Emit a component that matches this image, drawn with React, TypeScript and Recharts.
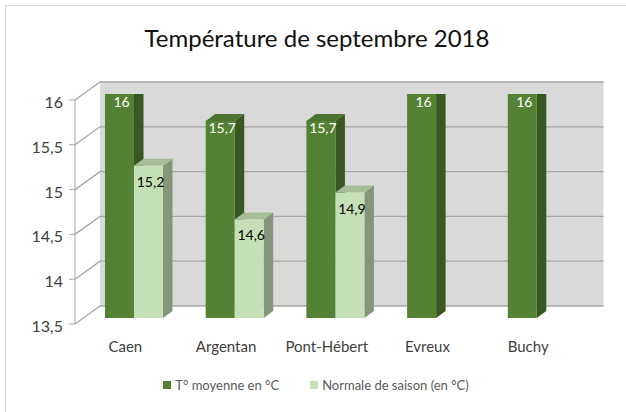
import { BarChart, Bar, XAxis, YAxis, CartesianGrid, Legend, LabelList } from "recharts";

const categories = ["Caen", "Argentan", "Pont-Hébert", "Evreux", "Buchy"];
const tMoyenne = [16, 15.7, 15.7, 16, 16];
const normaleSaison: (number | null)[] = [15.2, 14.6, 14.9, null, null];
const yTicks = [13.5, 14, 14.5, 15, 15.5, 16];

const data = categories.map((name, i) => ({
  name,
  moyenne: tMoyenne[i],
  normale: normaleSaison[i],
}));

const FONT = "Lato, 'Open Sans', sans-serif";
const W = 626;
const H = 412;
const PLOT_LEFT = 84;
const PLOT_TOP = 94;
const PLOT_RIGHT = 587.5;
const PLOT_BOTTOM = 318;

// 3D offsets relative to the plane of the bars' front faces
const FRONT_DX = -9;
const FRONT_DY = 6;
const BACK_DX = 16;
const BACK_DY = -12;
const BAR_DX = 9.5;
const BAR_DY = -7;

const fmt = (v: number) => String(v).replace(".", ",");

function GridLine(props: any) {
  const { x1, x2, y1, index } = props;
  const stroke = "#a6a6a6";
  return (
    <g key={`grid-${index}`}>
      {index === 0 && (
        <>
          <rect
            x={PLOT_LEFT + BACK_DX}
            y={PLOT_TOP + BACK_DY}
            width={PLOT_RIGHT - PLOT_LEFT}
            height={PLOT_BOTTOM - PLOT_TOP}
            fill="#d9d9d9"
          />
          <line
            x1={PLOT_LEFT + FRONT_DX}
            x2={PLOT_LEFT + FRONT_DX}
            y1={PLOT_TOP + FRONT_DY}
            y2={PLOT_BOTTOM + FRONT_DY}
            stroke={stroke}
          />
        </>
      )}
      <polyline
        points={`${x1 + FRONT_DX},${y1 + FRONT_DY} ${x1 + BACK_DX},${y1 + BACK_DY} ${x2 + BACK_DX},${y1 + BACK_DY}`}
        fill="none"
        stroke={stroke}
        strokeWidth={1.3}
      />
    </g>
  );
}

function makeBox(side: string, top: string) {
  return function Box3D(props: any) {
    const { x, y, width, height, fill } = props;
    if (height == null || height <= 0 || isNaN(y)) return <g />;
    return (
      <g>
        <polygon
          points={`${x + width},${y} ${x + width + BAR_DX},${y + BAR_DY} ${x + width + BAR_DX},${y + height + BAR_DY} ${x + width},${y + height}`}
          fill={side}
        />
        <polygon
          points={`${x},${y} ${x + BAR_DX},${y + BAR_DY} ${x + width + BAR_DX},${y + BAR_DY} ${x + width},${y}`}
          fill={top}
        />
        <rect x={x} y={y} width={width} height={height} fill={fill} />
      </g>
    );
  };
}

function makeLabel(color: string, dy: number) {
  return function BarLabel(props: any) {
    const { x, y, width, value } = props;
    if (value == null) return null;
    return (
      <text
        x={x + width / 2 + 2}
        y={y + dy}
        textAnchor="middle"
        dominantBaseline="central"
        fill={color}
        fontSize={14}
        fontFamily={FONT}
      >
        {fmt(value)}
      </text>
    );
  };
}

function YTick(props: any) {
  const { y, payload } = props;
  const fx = PLOT_LEFT + FRONT_DX;
  return (
    <g>
      <line x1={fx - 6} x2={fx} y1={y + FRONT_DY} y2={y + FRONT_DY} stroke="#a6a6a6" />
      <text
        x={fx - 12}
        y={y + FRONT_DY + 1.5}
        textAnchor="end"
        dominantBaseline="central"
        fill="#404040"
        fontSize={16}
        fontFamily={FONT}
      >
        {fmt(payload.value)}
      </text>
    </g>
  );
}

function XTick(props: any) {
  const { x, payload } = props;
  return (
    <text
      x={x + FRONT_DX}
      y={PLOT_BOTTOM + 34}
      textAnchor="middle"
      fill="#404040"
      fontSize={15}
      fontFamily={FONT}
    >
      {payload.value}
    </text>
  );
}

function LegendContent() {
  const items = [
    { label: "T° moyenne en °C", color: "#548235" },
    { label: "Normale de saison (en °C)", color: "#c5e0b4" },
  ];
  return (
    <div
      style={{
        display: "flex",
        justifyContent: "center",
        gap: 31,
        paddingLeft: 6,
        fontFamily: FONT,
        fontSize: 13,
        color: "#595959",
      }}
    >
      {items.map((it) => (
        <div key={it.label} style={{ display: "flex", alignItems: "center", gap: 4 }}>
          <span style={{ width: 8, height: 8, background: it.color, display: "inline-block" }} />
          <span>{it.label}</span>
        </div>
      ))}
    </div>
  );
}

export default function App() {
  return (
    <div style={{ position: "absolute", left: 0, top: 0, width: W, height: H, background: "#fff" }}>
      <div
        style={{
          position: "absolute",
          left: 5,
          top: 5,
          width: W,
          height: H,
          borderLeft: "1.5px solid #d9d9d9",
          borderTop: "1.5px solid #d9d9d9",
        }}
      />
      <div
        style={{
          position: "absolute",
          left: 0,
          top: 23,
          width: W,
          textAlign: "center",
          paddingLeft: 8,
          boxSizing: "border-box",
          fontFamily: FONT,
          fontSize: 24,
          lineHeight: "30px",
          color: "#111111",
        }}
      >
        Température de septembre 2018
      </div>
      <div style={{ position: "absolute", left: 0, top: 0 }}>
        <BarChart
          width={W}
          height={H}
          data={data}
          barGap={0}
          margin={{ top: PLOT_TOP, right: W - PLOT_RIGHT, left: PLOT_LEFT - 60, bottom: H - PLOT_BOTTOM - 30 }}
        >
          <CartesianGrid vertical={false} horizontal={GridLine} />
          <XAxis dataKey="name" height={30} axisLine={false} tickLine={false} tick={XTick} interval={0} />
          <YAxis
            type="number"
            domain={[13.5, 16]}
            ticks={yTicks}
            width={60}
            axisLine={false}
            tickLine={false}
            tick={YTick}
            allowDataOverflow
          />
          <Legend
            layout="horizontal"
            verticalAlign="middle"
            align="center"
            wrapperStyle={{ top: 377, left: 0, width: W }}
            content={LegendContent}
          />
          <Bar
            dataKey="moyenne"
            name="T° moyenne en °C"
            fill="#548235"
            barSize={29}
            shape={makeBox("#385723", "#4b7530")}
            isAnimationActive={false}
          >
            <LabelList dataKey="moyenne" content={makeLabel("#ffffff", 7)} />
          </Bar>
          <Bar
            dataKey="normale"
            name="Normale de saison (en °C)"
            fill="#c5e0b4"
            barSize={29}
            shape={makeBox("#84957a", "#a6bd97")}
            isAnimationActive={false}
          >
            <LabelList dataKey="normale" content={makeLabel("#000000", 15.5)} />
          </Bar>
        </BarChart>
      </div>
    </div>
  );
}
